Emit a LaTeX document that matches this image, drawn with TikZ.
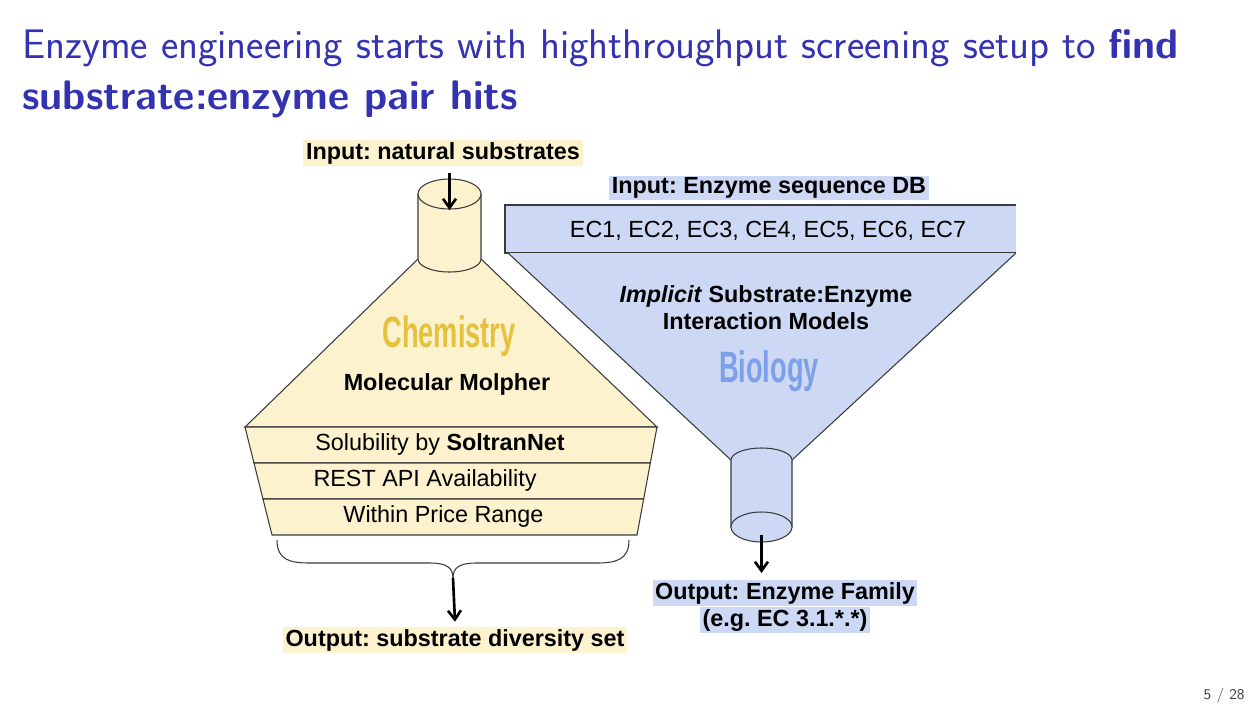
\documentclass[tikz,border=0pt]{standalone}
\usepackage{fontspec}
\setmainfont{Liberation Sans}
\newfontfamily\posterfont{Liberation Sans}[FakeStretch=0.62]
\usetikzlibrary{calc,arrows.meta}
\frenchspacing

\definecolor{titleblue}{HTML}{3333B2}
\definecolor{chemfill}{HTML}{FCF2CE}
\definecolor{chemtext}{HTML}{E6C13D}
\definecolor{biofill}{HTML}{CDD8F5}
\definecolor{biotext}{HTML}{7DA0EA}
\definecolor{linegray}{HTML}{3A3A3A}

\begin{document}
\begin{tikzpicture}[x=0.02cm,y=-0.02cm,
    edgeline/.style={draw=linegray,line width=0.6pt},
    arr/.style={-{Straight Barb[length=1.8mm,width=2.6mm]},line width=1.5pt},
    tag/.style={font=\bfseries\fontsize{13.3}{15.3}\selectfont,inner xsep=1.5pt,inner ysep=1pt},
    txt/.style={font=\fontsize{13.3}{15.3}\selectfont,inner sep=0pt},
    area/.style={font=\posterfont\bfseries\fontsize{25}{27}\selectfont,inner sep=0pt}]
  \useasboundingbox (0,0) rectangle (1259,708);

  % slide title
  \node[anchor=base west,inner sep=0pt,text=titleblue,font=\sffamily\fontsize{23.5}{28}\selectfont]
    (title1) at (22,58) {Enzyme engineering starts with highthroughput screening setup to \textbf{find}};
  \node[anchor=base west,inner sep=0pt,text=titleblue,font=\sffamily\fontsize{23.5}{28}\selectfont]
    (title2) at (22,109) {\textbf{substrate:enzyme pair hits}};

  % chemistry funnel
  \filldraw[fill=chemfill,edgeline] (418,259) -- (245,427) -- (657,427) -- (481,259) -- cycle;
  \coordinate (r0l) at (245,427);
  \coordinate (r0r) at (657,427);
  \coordinate (r3l) at (272,535);
  \coordinate (r3r) at (637,535);
  \foreach \i/\j in {0/1,1/2,2/3}
    \filldraw[fill=chemfill,edgeline] ($(r0l)!\i/3!(r3l)$) -- ($(r0l)!\j/3!(r3l)$)
      -- ($(r0r)!\j/3!(r3r)$) -- ($(r0r)!\i/3!(r3r)$) -- cycle;
  \filldraw[fill=chemfill,edgeline] (418,194) -- (418,259)
    arc[start angle=180,end angle=0,x radius=31.5,y radius=13] -- (481,194) -- cycle;
  \filldraw[fill=chemfill,edgeline] (449.5,194) ellipse[x radius=31.5,y radius=15];
  \coordinate (chemtop) at (449.5,210);

  % brace under the filters
  \draw[edgeline] (277,540) .. controls (277,560) and (290,563) .. (310,563) -- (430,563)
    .. controls (447,563) and (453,568) .. (453,578);
  \draw[edgeline] (629,540) .. controls (629,560) and (616,563) .. (596,563) -- (476,563)
    .. controls (459,563) and (453,568) .. (453,578);
  \coordinate (bracetip) at (453,578);

  % biology funnel
  \fill[biofill] (505,205) rectangle (1016,253);
  \draw[edgeline] (1016,205) -- (505,205) -- (505,253) -- (1016,253);
  \filldraw[fill=biofill,edgeline] (508,253) -- (731,460) -- (792,460) -- (1016,253);
  \filldraw[fill=biofill,edgeline] (731,527) -- (731,460)
    arc[start angle=180,end angle=360,x radius=30.5,y radius=12] -- (792,527) -- cycle;
  \filldraw[fill=biofill,edgeline] (761.5,527) ellipse[x radius=30.5,y radius=15];
  \coordinate (biobot) at (761.5,535);

  % texts
  \node[tag,fill=chemfill] (innat) at (443,153) {Input: natural substrates};
  \node[area,text=chemtext] (chem) at (449,336) {Chemistry};
  \node[txt,font=\bfseries\fontsize{13.3}{15.3}\selectfont] (molpher) at (447,384) {Molecular Molpher};
  \node[txt] (solub) at (440,444) {Solubility by \textbf{SoltranNet}};
  \node[txt] (rest) at (425,480) {REST API Availability};
  \node[txt] (price) at (443.5,516) {Within Price Range};
  \node[tag,fill=chemfill] (outdiv) at (455,640) {Output: substrate diversity set};

  \node[tag,fill=biofill] (inenz) at (769,188) {Input: Enzyme sequence DB};
  \node[txt] (eclist) at (768,231) {EC1, EC2, EC3, CE4, EC5, EC6, EC7};
  \node[txt,font=\bfseries\fontsize{13.3}{15.3}\selectfont,align=center] (models) at (766,308)
    {\textit{Implicit} Substrate:Enzyme\\Interaction Models};
  \node[area,text=biotext] (bio) at (769,371) {Biology};
  \node[tag,fill=biofill] (outfam) at (785,593) {Output: Enzyme Family};
  \node[tag,fill=biofill] (outeg) at (785,620) {(e.g. EC 3.1.*.*)};

  % arrows
  \draw[arr] ([yshift=-4]innat.south -| chemtop) -- (chemtop);
  \draw[arr] (bracetip) -- ([yshift=3]outdiv.north);
  \draw[arr] (biobot) -- ([yshift=4]outfam.north -| biobot);

  \node[anchor=base east,inner sep=0pt,text=black!75,font=\sffamily\fontsize{8.5}{10}\selectfont]
    (pnum) at (1245,699) {5 / 28};
\end{tikzpicture}
\end{document}
